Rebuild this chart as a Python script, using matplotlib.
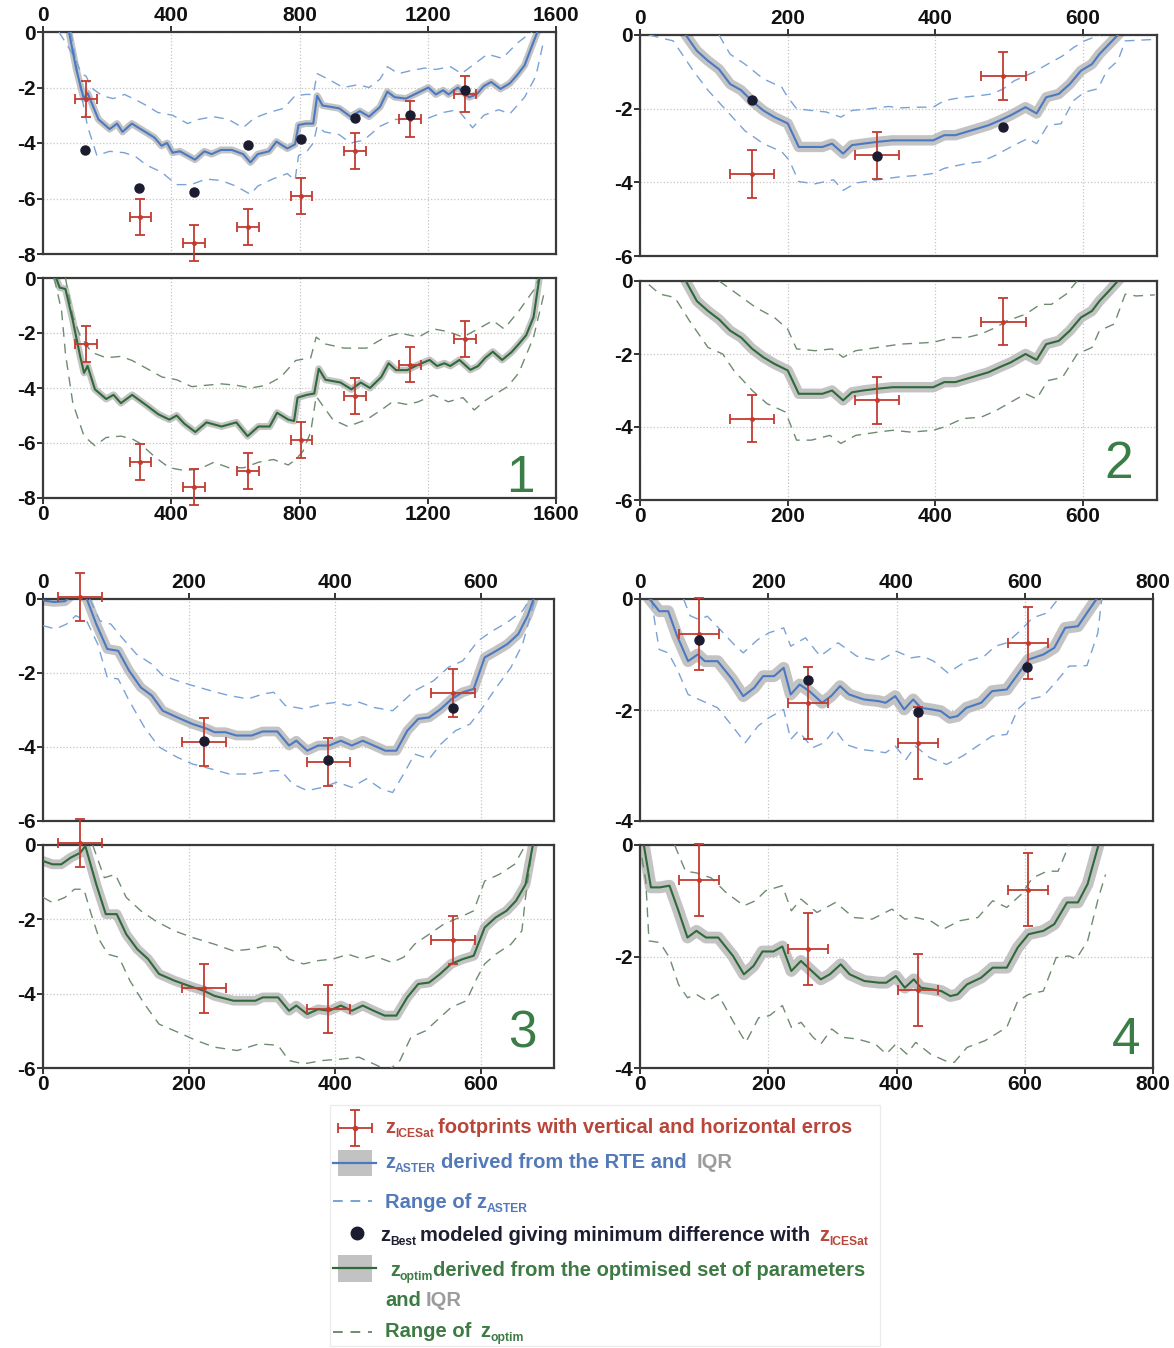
import numpy as np
import matplotlib.pyplot as plt
from matplotlib.patches import Rectangle

plt.rcParams['font.family'] = ['Liberation Sans', 'DejaVu Sans']
plt.rcParams['axes.unicode_minus'] = False

BLUE = '#4a79c2'
BLUE_DASH = '#7aa2d6'
GREEN = '#2e6a38'
GREEN_DASH = '#6f8b70'
BAND = '#b9b9b9'
RED = '#c23b30'
DOT = '#1c1c30'

# ---------------- profile 1 ----------------
p1_aster_x = [70, 81, 104, 127, 139, 173, 208, 231, 248, 277, 312, 347, 370, 387, 404, 427, 474, 503, 526, 555,
              589, 624, 647, 670, 705, 728, 762, 786, 797, 820, 843, 855, 872, 924, 959, 988, 1017, 1051, 1074,
              1097, 1132, 1167, 1202, 1225, 1248, 1265, 1294, 1329, 1352, 1375, 1398, 1427, 1456, 1479, 1502,
              1525, 1542]
p1_aster_y = [0.4, 0, -1.35, -2.4, -2.2, -3.15, -3.5, -3.3, -3.6, -3.3, -3.55, -3.8, -4.1, -4.0, -4.35, -4.3,
              -4.6, -4.3, -4.4, -4.25, -4.25, -4.4, -4.7, -4.4, -4.3, -3.95, -4.2, -4.05, -3.35, -3.3, -3.3, -2.3,
              -2.65, -2.75, -3.05, -2.85, -3.05, -2.7, -2.15, -2.35, -2.4, -2.2, -2.0, -2.25, -2.1, -2.25, -2.0,
              -2.35, -2.25, -1.95, -1.8, -2.05, -1.85, -1.55, -1.2, -0.5, 0]
p1_aster_hi_x = [50, 98, 120, 135, 150, 185, 219, 254, 290, 323, 358, 404, 451, 485, 531, 578, 624, 659, 705, 751,
                 786, 820, 843, 855, 890, 936, 982, 1017, 1051, 1074, 1109, 1144, 1190, 1225, 1271, 1305, 1340,
                 1386, 1433, 1479, 1525]
p1_aster_hi_y = [0, -0.9, -1.5, -1.6, -2.0, -2.3, -2.4, -2.25, -2.45, -2.65, -2.9, -3.0, -3.3, -3.15, -3.05, -3.15,
                 -3.45, -3.1, -2.9, -2.75, -2.3, -2.25, -2.25, -1.5, -1.7, -2.0, -1.9, -2.0, -1.7, -1.25, -1.5,
                 -1.4, -1.3, -1.35, -1.25, -1.5, -1.2, -0.8, -0.95, -0.4, 0]
p1_aster_lo_x = [87, 110, 127, 139, 168, 208, 254, 290, 323, 370, 416, 462, 508, 555, 601, 647, 670, 716, 762,
                 786, 797, 820, 843, 855, 878, 924, 959, 1000, 1051, 1097, 1155, 1202, 1248, 1294, 1340, 1375,
                 1421, 1456, 1502, 1537, 1560]
p1_aster_lo_y = [0, -1.6, -2.7, -3.4, -4.45, -4.3, -4.35, -4.5, -4.8, -5.05, -5.5, -5.5, -5.3, -5.35, -5.55,
                 -5.85, -5.55, -5.3, -5.1, -5.35, -4.45, -4.35, -4.0, -3.4, -3.6, -3.7, -4.0, -3.9, -3.4, -3.15,
                 -3.15, -3.1, -2.9, -2.8, -3.45, -3.0, -2.8, -2.95, -2.35, -1.6, -0.4]
p1_optim_x = [35, 41, 52, 70, 93, 116, 128, 139, 162, 197, 220, 243, 278, 325, 359, 394, 417, 441, 475, 510,
              557, 603, 638, 672, 707, 730, 765, 783, 794, 823, 846, 860, 881, 928, 962, 991, 1020, 1055, 1078,
              1101, 1136, 1171, 1206, 1229, 1252, 1270, 1299, 1333, 1357, 1380, 1403, 1432, 1461, 1484, 1507,
              1530, 1548]
p1_optim_y = [0.3, 0, -0.35, -0.4, -1.55, -2.85, -3.45, -3.2, -4.05, -4.4, -4.25, -4.55, -4.25, -4.65, -4.95,
              -5.15, -5.0, -5.3, -5.6, -5.25, -5.4, -5.25, -5.75, -5.4, -5.4, -4.9, -5.15, -5.2, -4.35, -4.25,
              -4.2, -3.3, -3.7, -3.8, -4.05, -3.8, -4.0, -3.6, -3.1, -3.35, -3.35, -3.15, -2.98, -3.2, -3.1, -3.2,
              -2.98, -3.34, -3.2, -2.9, -2.68, -2.98, -2.7, -2.4, -2.08, -1.42, 0]
p1_optim_hi_x = [70, 93, 116, 151, 197, 243, 278, 325, 371, 417, 464, 510, 557, 603, 649, 696, 742, 788, 835,
                 852, 881, 939, 1009, 1067, 1113, 1171, 1217, 1264, 1310, 1357, 1403, 1438, 1484, 1530, 1548]
p1_optim_hi_y = [0, -1.4, -2.1, -2.7, -2.9, -2.85, -3.0, -3.3, -3.6, -3.7, -3.95, -3.9, -3.85, -3.9, -4.0, -3.9,
                 -3.6, -3.0, -2.9, -2.15, -2.4, -2.55, -2.55, -2.15, -2.0, -2.15, -1.85, -1.95, -2.15, -1.85,
                 -1.55, -1.85, -1.2, -0.45, 0]
p1_optim_lo_x = [35, 58, 70, 93, 128, 162, 197, 243, 278, 301, 348, 394, 441, 487, 533, 580, 626, 672, 719, 765,
                 788, 811, 835, 852, 870, 904, 951, 1009, 1055, 1090, 1136, 1171, 1217, 1264, 1310, 1345, 1380,
                 1414, 1449, 1484, 1530, 1565]
p1_optim_lo_y = [0, -1.2, -2.75, -4.55, -5.75, -6.1, -5.8, -5.75, -5.85, -6.0, -6.5, -6.9, -7.0, -6.95, -6.7,
                 -6.9, -6.9, -6.7, -6.6, -6.8, -6.6, -6.3, -5.6, -4.3, -4.6, -5.15, -5.4, -5.15, -4.8, -4.5, -4.6,
                 -4.5, -4.25, -4.5, -4.35, -4.8, -4.45, -4.2, -3.95, -3.45, -2.15, -0.45]
p1_ice_x = [135, 304, 470, 639, 806, 974, 1144, 1315]
p1_ice_y = [-2.4, -6.68, -7.6, -7.02, -5.9, -4.29, -3.15, -2.23]
p1_best_x = [131, 300, 470, 639, 806, 974, 1144, 1317]
p1_best_y = [-4.26, -5.63, -5.76, -4.08, -3.84, -3.09, -3.0, -2.1]

# ---------------- profile 2 ----------------
p2_aster_x = [62, 77, 92, 107, 122, 137, 152, 167, 182, 200, 215, 232, 247, 260, 275, 287, 302, 322, 342, 367,
              397, 412, 427, 442, 457, 472, 487, 502, 522, 537, 550, 567, 582, 597, 612, 622, 635, 647]
p2_aster_y = [0, -0.43, -0.7, -0.93, -1.33, -1.5, -1.8, -2.05, -2.23, -2.4, -3.04, -3.04, -3.04, -2.95, -3.22,
              -2.99, -2.95, -2.9, -2.86, -2.86, -2.86, -2.72, -2.72, -2.63, -2.54, -2.45, -2.32, -2.18, -1.96,
              -2.13, -1.69, -1.6, -1.33, -0.97, -0.79, -0.52, -0.25, 0]
p2_aster_hi_x = [107, 122, 142, 167, 192, 200, 212, 232, 252, 272, 287, 312, 337, 352, 372, 397, 412, 437, 462,
                 477, 492, 507, 532, 552, 572, 587, 602, 622]
p2_aster_hi_y = [0, -0.52, -0.79, -1.19, -1.42, -1.69, -2.0, -2.05, -2.09, -2.23, -2.05, -2.0, -1.94, -1.98,
                 -1.96, -1.96, -1.78, -1.69, -1.64, -1.6, -1.46, -1.24, -1.02, -0.79, -0.57, -0.34, -0.16, 0]
p2_aster_lo_x = [12, 45, 72, 92, 117, 142, 167, 192, 202, 215, 237, 262, 275, 292, 322, 352, 382, 397, 412, 442,
                 462, 482, 502, 525, 537, 552, 570, 587, 602, 620, 632, 647, 657, 667, 697]
p2_aster_lo_y = [0, -0.16, -0.97, -1.5, -2.05, -2.6, -2.95, -3.17, -3.4, -3.98, -4.04, -3.93, -4.22, -4.02,
                 -3.93, -3.85, -3.8, -3.76, -3.62, -3.49, -3.44, -3.26, -3.04, -2.81, -2.95, -2.45, -2.41, -1.78,
                 -1.55, -1.46, -0.97, -0.7, -0.16, -0.15, -0.12]
p2_optim_x = [62, 77, 92, 107, 122, 137, 152, 167, 182, 200, 215, 232, 247, 260, 275, 287, 302, 322, 342, 367,
              397, 412, 427, 442, 457, 472, 487, 502, 522, 537, 550, 567, 582, 597, 612, 622, 635, 647]
p2_optim_y = [0, -0.55, -0.82, -1.05, -1.36, -1.55, -1.86, -2.09, -2.27, -2.45, -3.09, -3.09, -3.09, -3.0,
              -3.27, -3.05, -3.0, -2.95, -2.91, -2.91, -2.91, -2.77, -2.77, -2.68, -2.59, -2.5, -2.36, -2.23,
              -2.0, -2.16, -1.73, -1.64, -1.36, -1.0, -0.82, -0.55, -0.27, 0]
p2_optim_hi_x = [107, 132, 157, 182, 200, 212, 237, 260, 275, 292, 322, 352, 397, 422, 442, 462, 482, 497, 522,
                 542, 557, 577, 592]
p2_optim_hi_y = [0, -0.36, -0.73, -1.0, -1.32, -1.86, -1.91, -1.86, -2.09, -1.91, -1.82, -1.73, -1.68, -1.55,
                 -1.55, -1.45, -1.27, -1.09, -0.91, -0.64, -0.64, -0.36, 0]
p2_optim_lo_x = [12, 27, 47, 67, 92, 112, 127, 152, 172, 197, 212, 232, 257, 272, 292, 322, 342, 367, 397, 412,
                 437, 462, 482, 502, 522, 537, 552, 572, 592, 612, 622, 642, 657, 672, 697]
p2_optim_lo_y = [-0.1, -0.36, -0.45, -1.09, -1.82, -2.0, -2.45, -3.0, -3.36, -3.59, -4.36, -4.36, -4.23, -4.45,
                 -4.23, -4.14, -4.09, -4.14, -4.09, -4.0, -3.77, -3.73, -3.55, -3.32, -3.09, -3.23, -2.73, -2.64,
                 -2.0, -1.82, -1.36, -1.18, -0.36, -0.41, -0.38]
p2_ice_x = [152, 321, 492]
p2_ice_y = [-3.77, -3.27, -1.11]
p2_best_x = [151, 321, 491]
p2_best_y = [-1.76, -3.29, -2.5]

# ---------------- profile 3 ----------------
p3_aster_x = [0, 15, 30, 45, 60, 73, 88, 103, 118, 134, 149, 164, 184, 205, 225, 235, 250, 265, 286, 301, 321,
              337, 347, 362, 377, 392, 408, 423, 438, 453, 469, 484, 499, 514, 529, 545, 560, 575, 590, 605, 621,
              636, 651, 664, 672]
p3_aster_y = [-0.04, -0.08, -0.06, 0.2, 0, -0.68, -1.35, -1.4, -1.94, -2.39, -2.61, -3.02, -3.2, -3.38, -3.51,
              -3.6, -3.6, -3.69, -3.69, -3.58, -3.58, -3.96, -3.83, -4.1, -3.96, -3.96, -3.83, -3.96, -3.83,
              -3.96, -4.1, -4.1, -3.56, -3.24, -3.2, -2.97, -2.7, -2.52, -2.43, -1.58, -1.4, -1.22, -0.95, -0.45, 0]
p3_aster_hi_x = [64, 78, 93, 108, 128, 149, 164, 184, 205, 230, 255, 281, 301, 316, 332, 357, 383, 403, 418, 433,
                 453, 479, 494, 509, 535, 555, 575, 596, 616, 636, 657, 667]
p3_aster_hi_y = [0, -0.59, -0.68, -1.04, -1.49, -1.76, -2.07, -2.21, -2.34, -2.48, -2.61, -2.7, -2.57, -2.52,
                 -2.88, -2.97, -2.84, -2.79, -2.88, -2.79, -2.93, -3.02, -2.75, -2.48, -2.21, -1.85, -1.67, -1.13,
                 -0.86, -0.63, -0.32, 0]
p3_aster_lo_x = [0, 17, 32, 45, 60, 75, 88, 103, 118, 139, 159, 184, 205, 230, 255, 286, 316, 326, 342, 362, 383,
                 403, 423, 443, 464, 479, 494, 509, 529, 545, 565, 585, 601, 621, 641, 657, 667, 674]
p3_aster_lo_y = [-0.72, -0.81, -0.68, -0.45, -0.6, -1.22, -2.12, -2.16, -2.75, -3.47, -4.0, -4.28, -4.46, -4.59,
                 -4.73, -4.73, -4.64, -4.64, -5.0, -5.18, -5.09, -4.95, -5.09, -4.86, -5.14, -5.23, -4.73, -4.19,
                 -4.32, -3.92, -3.56, -3.38, -2.97, -2.39, -1.85, -1.22, -0.5, 0]
p3_optim_x = [0, 13, 25, 38, 51, 58, 73, 86, 101, 114, 129, 144, 159, 180, 200, 220, 235, 261, 291, 301, 322,
              337, 347, 362, 377, 392, 408, 423, 438, 453, 468, 484, 499, 514, 529, 544, 559, 575, 590, 605, 620,
              635, 648, 661, 671]
p3_optim_y = [-0.43, -0.52, -0.52, -0.34, -0.21, -0.03, -1.06, -1.86, -1.86, -2.4, -2.8, -3.07, -3.47, -3.65,
              -3.79, -3.92, -4.06, -4.19, -4.19, -4.1, -4.1, -4.46, -4.32, -4.55, -4.42, -4.46, -4.32, -4.46,
              -4.32, -4.46, -4.59, -4.59, -4.1, -3.74, -3.7, -3.47, -3.2, -3.07, -2.98, -2.22, -1.95, -1.77, -1.5,
              -1.06, 0]
p3_optim_hi_x = [68, 84, 99, 114, 134, 154, 180, 205, 235, 261, 286, 306, 322, 337, 357, 377, 397, 418, 438, 453,
                 478, 494, 509, 529, 549, 575, 590, 605, 625, 646, 661]
p3_optim_hi_y = [0, -0.88, -0.79, -1.41, -1.77, -2.04, -2.31, -2.49, -2.67, -2.85, -2.8, -2.71, -2.76, -3.07,
                 -3.2, -3.11, -3.07, -2.94, -3.07, -2.98, -3.16, -3.02, -2.67, -2.4, -2.13, -1.91, -1.77, -0.97,
                 -0.79, -0.52, 0]
p3_optim_lo_x = [0, 13, 30, 43, 56, 66, 78, 89, 104, 119, 139, 159, 185, 210, 235, 266, 296, 322, 337, 357, 382,
                 408, 433, 453, 473, 489, 504, 524, 539, 559, 580, 595, 605, 620, 641, 656, 661, 666, 671]
p3_optim_lo_y = [-1.41, -1.55, -1.41, -1.19, -1.19, -1.86, -2.58, -2.94, -3.02, -3.65, -4.28, -4.82, -5.04,
                 -5.26, -5.44, -5.53, -5.35, -5.39, -5.8, -5.89, -5.8, -5.76, -5.71, -5.89, -6.07, -5.8, -5.17,
                 -5.0, -4.73, -4.37, -4.19, -3.56, -3.2, -2.94, -2.67, -2.31, -1.41, -0.7, 0]
p3_ice_x = [51, 221, 391, 562]
p3_ice_y = [0.05, -3.86, -4.41, -2.55]
p3_best_x = [221, 391, 562]
p3_best_y = [-3.85, -4.34, -2.95]

# ---------------- profile 4 ----------------
p4_aster_x = [15, 30, 44, 58, 75, 90, 101, 121, 144, 161, 178, 192, 209, 224, 235, 249, 264, 284, 298, 312, 326,
              349, 372, 383, 398, 412, 426, 438, 455, 469, 483, 495, 509, 532, 549, 572, 589, 606, 629, 646, 663,
              683, 697, 712]
p4_aster_y = [0, -0.22, -0.22, -0.67, -1.12, -1.0, -1.12, -1.12, -1.45, -1.75, -1.6, -1.39, -1.39, -1.24, -1.72,
              -1.54, -1.66, -1.87, -1.75, -1.57, -1.72, -1.81, -1.84, -1.87, -1.75, -1.99, -1.81, -1.96, -1.99,
              -2.02, -2.14, -2.11, -1.96, -1.87, -1.66, -1.63, -1.36, -1.09, -1.0, -0.88, -0.52, -0.49, -0.25, 0]
p4_aster_hi_x = [68, 78, 92, 105, 125, 145, 161, 184, 201, 224, 235, 258, 281, 309, 338, 372, 400, 423, 441, 458,
                 480, 509, 537, 554, 572, 595, 612, 635, 652]
p4_aster_hi_y = [0, -0.3, -0.37, -0.31, -0.55, -0.8, -0.97, -0.73, -0.61, -0.52, -0.85, -0.7, -1.03, -0.79,
                 -1.03, -1.12, -0.94, -1.06, -1.03, -1.12, -1.33, -1.12, -1.03, -0.85, -0.79, -0.55, -0.34, -0.25, 0]
p4_aster_lo_x = [18, 24, 30, 44, 58, 75, 92, 121, 144, 164, 184, 201, 224, 235, 247, 269, 287, 304, 321, 344, 366,
                 383, 398, 415, 429, 452, 478, 503, 526, 549, 572, 589, 606, 629, 652, 669, 697, 714, 720]
p4_aster_lo_y = [0, -0.49, -0.91, -0.97, -1.27, -1.72, -1.81, -1.96, -2.29, -2.59, -2.29, -2.14, -1.99, -2.53,
                 -2.38, -2.68, -2.59, -2.35, -2.62, -2.71, -2.74, -2.77, -2.65, -2.89, -2.65, -2.86, -2.98, -2.83,
                 -2.65, -2.47, -2.44, -1.99, -1.81, -1.75, -1.45, -1.21, -1.2, -0.61, 0]
p4_optim_x = [6, 17, 31, 46, 60, 74, 88, 103, 122, 145, 162, 177, 191, 208, 222, 236, 251, 265, 282, 296, 313,
              327, 350, 373, 384, 399, 413, 427, 438, 456, 470, 484, 495, 510, 532, 550, 572, 589, 606, 629, 646,
              666, 683, 698, 715]
p4_optim_y = [0, -0.76, -0.76, -0.73, -1.18, -1.66, -1.54, -1.66, -1.66, -1.99, -2.32, -2.17, -1.91, -1.91,
              -1.82, -2.26, -2.08, -2.23, -2.41, -2.32, -2.14, -2.32, -2.44, -2.47, -2.47, -2.35, -2.56, -2.41,
              -2.56, -2.59, -2.62, -2.71, -2.68, -2.5, -2.38, -2.2, -2.2, -1.84, -1.6, -1.54, -1.42, -1.03, -1.03,
              -0.7, 0]
p4_optim_hi_x = [54, 71, 88, 111, 134, 162, 180, 196, 222, 236, 251, 276, 305, 333, 362, 393, 413, 430, 453, 473,
                 498, 527, 550, 572, 595, 612, 635, 652, 669]
p4_optim_hi_y = [0, -0.47, -0.5, -0.59, -0.85, -1.09, -1.0, -0.82, -0.73, -1.18, -0.97, -1.21, -1.03, -1.3,
                 -1.33, -1.15, -1.33, -1.3, -1.36, -1.51, -1.36, -1.3, -1.0, -1.12, -0.88, -0.59, -0.47, -0.47, 0]
p4_optim_lo_x = [3, 9, 14, 31, 46, 60, 74, 88, 105, 122, 145, 165, 185, 202, 222, 236, 251, 270, 282, 299, 316,
                 339, 367, 384, 399, 416, 430, 453, 476, 490, 510, 538, 555, 572, 589, 606, 629, 649, 669, 680,
                 698, 715, 726]
p4_optim_lo_y = [-0.23, -0.64, -1.72, -1.75, -2.02, -2.5, -2.74, -2.68, -2.8, -2.68, -3.16, -3.54, -3.1, -3.06,
                 -2.88, -3.27, -3.18, -3.45, -3.57, -3.3, -3.45, -3.48, -3.57, -3.75, -3.57, -3.75, -3.54, -3.75,
                 -3.87, -3.9, -3.63, -3.51, -3.39, -3.27, -2.8, -2.68, -2.62, -2.02, -1.99, -2.05, -1.72, -0.94,
                 -0.53]
p4_ice_x = [92, 262, 433, 605]
p4_ice_y = [-0.63, -1.87, -2.6, -0.8]
p4_best_x = [92, 262, 434, 603]
p4_best_y = [-0.73, -1.46, -2.03, -1.23]

W, H = 1174, 1348
fig = plt.figure(figsize=(W / 100, H / 100), dpi=100)


def px_axes(left, top, right, bottom):
    return fig.add_axes([left / W, 1 - bottom / H, (right - left) / W, (bottom - top) / H])


def style_axes(ax, xmax, xstep, ymin, top):
    ax.set_xlim(0, xmax)
    ax.set_ylim(ymin, 0)
    ax.set_xticks(np.arange(0, xmax + 1, xstep))
    ax.set_yticks(np.arange(0, ymin - 1, -2))
    ax.grid(True, color='#c4c4c4', linestyle=':', linewidth=0.9)
    ax.set_axisbelow(True)
    for s in ax.spines.values():
        s.set_color('#3a3a3a')
        s.set_linewidth(1.6)
    ax.tick_params(direction='out', length=4, width=1.2, labelsize=15, pad=1, colors='#111111')
    if top:
        ax.xaxis.tick_top()
    for lab in ax.get_xticklabels() + ax.get_yticklabels():
        lab.set_fontweight('bold')


def draw_profile(ax, mx, my, hx, hy, lx, ly, color, dash_color, band_w):
    ax.plot(mx, my, color=BAND, lw=band_w, alpha=0.85, solid_joinstyle='round', zorder=2)
    ax.plot(hx, hy, color=dash_color, lw=1.0, dashes=(7, 5), zorder=3)
    ax.plot(lx, ly, color=dash_color, lw=1.0, dashes=(7, 5), zorder=3)
    ax.plot(mx, my, color=color, lw=1.5, zorder=4)


def draw_icesat(ax, x, y, xerr, yerr):
    cont = ax.errorbar(x, y, xerr=xerr, yerr=yerr, fmt='o', ms=2.5, color=RED, ecolor=RED,
                       elinewidth=1.3, capsize=3.5, capthick=1.3, zorder=6)
    cont.lines[0].set_clip_on(False)
    for art in list(cont.lines[1]) + list(cont.lines[2]):
        art.set_clip_on(False)


def draw_best(ax, x, y):
    ax.plot(x, y, 'o', color=DOT, ms=6.5, zorder=7)


panels = [
    dict(box=(43, 556), xmax=1600, xstep=400, ymin=-8, xerr=34, label='1', band=5,
         aster=(p1_aster_x, p1_aster_y, p1_aster_hi_x, p1_aster_hi_y, p1_aster_lo_x, p1_aster_lo_y),
         optim=(p1_optim_x, p1_optim_y, p1_optim_hi_x, p1_optim_hi_y, p1_optim_lo_x, p1_optim_lo_y),
         ice=(p1_ice_x, p1_ice_y), best=(p1_best_x, p1_best_y), rows=(32, 254, 278, 498),
         num=(0.958, 0.025)),
    dict(box=(640, 1157), xmax=700, xstep=200, ymin=-6, xerr=30, label='2', band=7.5,
         aster=(p2_aster_x, p2_aster_y, p2_aster_hi_x, p2_aster_hi_y, p2_aster_lo_x, p2_aster_lo_y),
         optim=(p2_optim_x, p2_optim_y, p2_optim_hi_x, p2_optim_hi_y, p2_optim_lo_x, p2_optim_lo_y),
         ice=(p2_ice_x, p2_ice_y), best=(p2_best_x, p2_best_y), rows=(35, 256, 281, 500),
         num=(0.953, 0.1)),
    dict(box=(43, 554), xmax=700, xstep=200, ymin=-6, xerr=30, label='3', band=7,
         aster=(p3_aster_x, p3_aster_y, p3_aster_hi_x, p3_aster_hi_y, p3_aster_lo_x, p3_aster_lo_y),
         optim=(p3_optim_x, p3_optim_y, p3_optim_hi_x, p3_optim_hi_y, p3_optim_lo_x, p3_optim_lo_y),
         ice=(p3_ice_x, p3_ice_y), best=(p3_best_x, p3_best_y), rows=(599, 821, 845, 1068),
         num=(0.965, 0.09)),
    dict(box=(640, 1153), xmax=800, xstep=200, ymin=-4, xerr=31, label='4', band=8.5,
         aster=(p4_aster_x, p4_aster_y, p4_aster_hi_x, p4_aster_hi_y, p4_aster_lo_x, p4_aster_lo_y),
         optim=(p4_optim_x, p4_optim_y, p4_optim_hi_x, p4_optim_hi_y, p4_optim_lo_x, p4_optim_lo_y),
         ice=(p4_ice_x, p4_ice_y), best=(p4_best_x, p4_best_y), rows=(599, 821, 845, 1068),
         num=(0.975, 0.065)),
]

ICE_YERR = 0.65

for p in panels:
    left, right = p['box']
    t1, b1, t2, b2 = p['rows']
    ax_top = px_axes(left, t1, right, b1)
    ax_bot = px_axes(left, t2, right, b2)
    style_axes(ax_top, p['xmax'], p['xstep'], p['ymin'], top=True)
    style_axes(ax_bot, p['xmax'], p['xstep'], p['ymin'], top=False)
    draw_profile(ax_top, *p['aster'], BLUE, BLUE_DASH, p['band'])
    draw_profile(ax_bot, *p['optim'], GREEN, GREEN_DASH, p['band'])
    draw_icesat(ax_top, p['ice'][0], p['ice'][1], p['xerr'], ICE_YERR)
    draw_icesat(ax_bot, p['ice'][0], p['ice'][1], p['xerr'], ICE_YERR)
    draw_best(ax_top, *p['best'])
    ax_bot.text(p['num'][0], p['num'][1], p['label'], transform=ax_bot.transAxes, fontsize=37,
                color='#3b7d47', ha='right', va='baseline', zorder=8)

# ---------------- legend ----------------
lax = fig.add_axes([0, 0, 1, 1])
lax.set_xlim(0, W)
lax.set_ylim(H, 0)
lax.axis('off')
lax.add_patch(Rectangle((330, 1105), 550, 241, facecolor='none', edgecolor='#ececec', lw=1))

renderer = fig.canvas.get_renderer()
FS = 14.5


def legend_row(x, y, pieces):
    for text, color, sub, gap in pieces:
        fs = FS * 0.6 if sub else FS
        t = lax.text(x, y + (4 if sub else 0), text, color=color, fontsize=fs, fontweight='bold',
                     ha='left', va='baseline')
        x += t.get_window_extent(renderer).width + gap


RED_T = '#b8463b'
BLUE_T = '#5379b9'
GRAY_T = '#9c9c9c'
DARK_T = '#1e1e32'
GREEN_T = '#3d7a44'

# handles
lax.errorbar([355], [1128], xerr=17, yerr=18, fmt='o', ms=3, color=RED, ecolor=RED, elinewidth=1.3,
             capsize=3.5, capthick=1.3)
lax.add_patch(Rectangle((338, 1150), 34, 26, facecolor='#c2c2c2', edgecolor='none'))
lax.plot([333, 376], [1163, 1163], color=BLUE, lw=1.6)
lax.plot([333, 372], [1201, 1201], color=BLUE_DASH, lw=1.4, dashes=(5, 4))
lax.plot([357], [1233], 'o', color=DOT, ms=9)
lax.add_patch(Rectangle((338, 1255), 34, 27, facecolor='#c2c2c2', edgecolor='none'))
lax.plot([333, 376], [1268, 1268], color=GREEN, lw=1.6)
lax.plot([333, 372], [1332, 1332], color=GREEN_DASH, lw=1.4, dashes=(5, 4))

legend_row(385, 1133, [('z', RED_T, False, 0), ('ICESat', RED_T, True, 4),
                       ('footprints with vertical and horizontal erros', RED_T, False, 0)])
legend_row(385, 1168, [('z', BLUE_T, False, 0), ('ASTER', BLUE_T, True, 5),
                       ('derived from the RTE and', BLUE_T, False, 10), ('IQR', GRAY_T, False, 0)])
legend_row(385, 1208, [('Range of', BLUE_T, False, 5), ('z', BLUE_T, False, 0), ('ASTER', BLUE_T, True, 0)])
legend_row(380, 1241, [('z', DARK_T, False, 0), ('Best', DARK_T, True, 4),
                       ('modeled giving minimum difference with', DARK_T, False, 9),
                       ('z', RED_T, False, 0), ('ICESat', RED_T, True, 0)])
legend_row(390, 1276, [('z', GREEN_T, False, 0), ('optim', GREEN_T, True, 0),
                       ('derived from the optimised set of parameters', GREEN_T, False, 0)])
legend_row(385, 1306, [('and', GREEN_T, False, 5), ('IQR', GRAY_T, False, 0)])
legend_row(385, 1337, [('Range of', GREEN_T, False, 9), ('z', GREEN_T, False, 0), ('optim', GREEN_T, True, 0)])

fig.savefig('out.png', dpi=100)
